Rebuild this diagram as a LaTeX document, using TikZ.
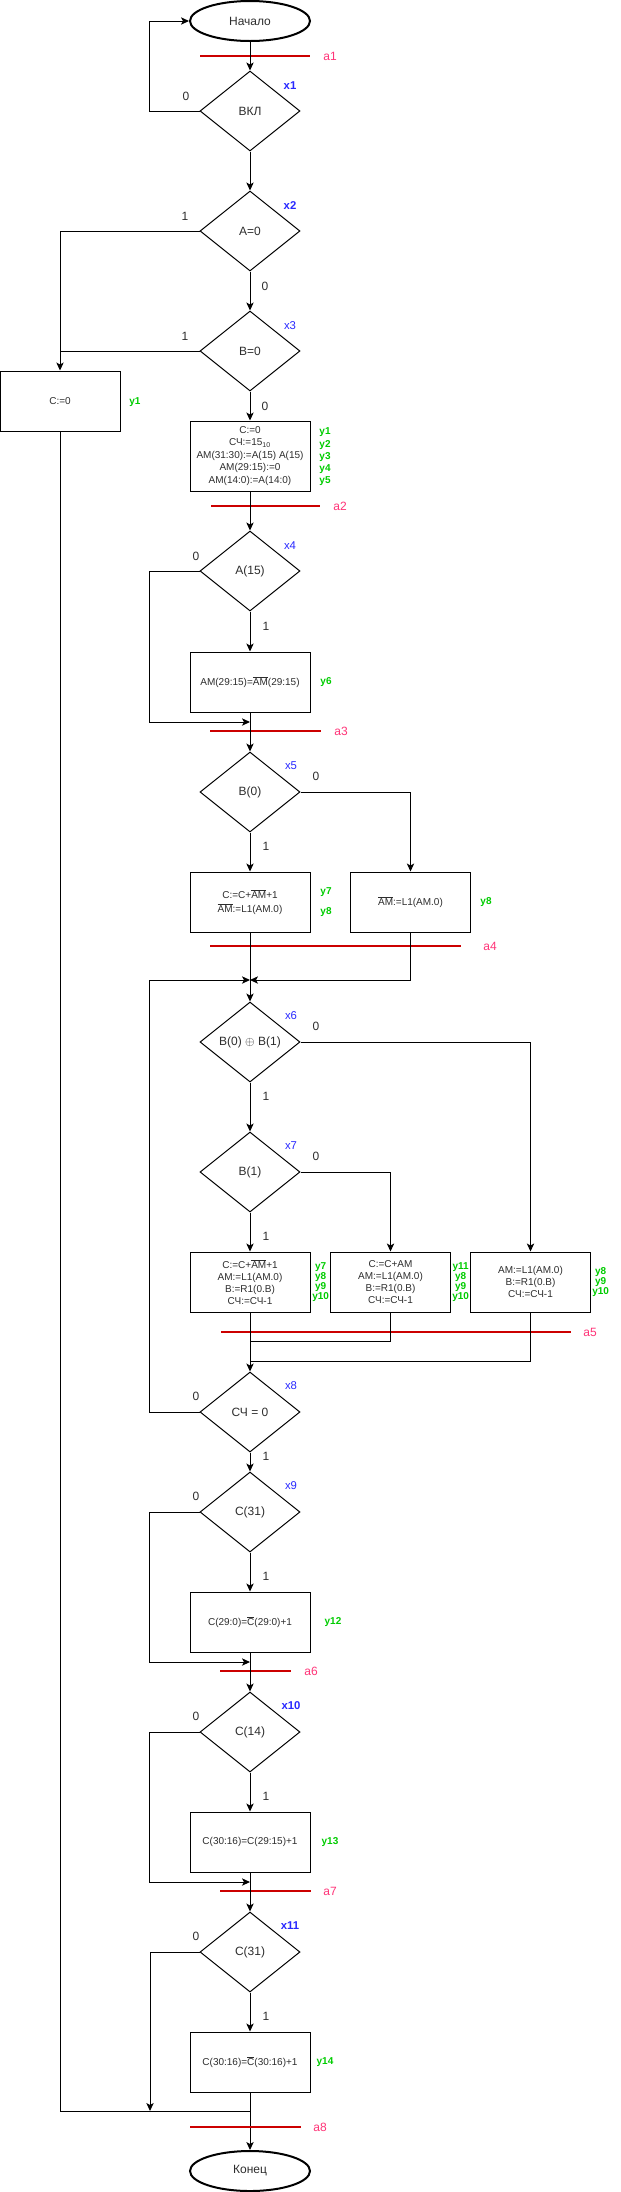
\documentclass[tikz,border=0pt]{standalone}
\usepackage{fontspec}
\setmainfont{Liberation Sans}
\usetikzlibrary{shapes.geometric,arrows.meta}
\definecolor{xblue}{RGB}{40,40,255}
\definecolor{ygreen}{RGB}{0,204,0}
\definecolor{apink}{RGB}{255,51,119}
\definecolor{ared}{RGB}{204,0,0}
\definecolor{txt}{RGB}{45,45,45}
\newcommand{\ovl}[1]{$\overline{\mbox{#1}}$}
\begin{document}
\begin{tikzpicture}[x=0.75pt,y=-0.75pt,
 line width=0.75pt,
 >={Stealth[length=6pt,width=5.5pt,inset=1.5pt]},
 dec/.style={diamond,draw,minimum width=75pt,minimum height=60pt,inner sep=0pt,font=\fontsize{9}{11}\selectfont,text=txt},
 proc/.style={rectangle,draw,minimum width=90pt,minimum height=45pt,inner sep=0pt,align=center,font=\fontsize{7.5}{9}\selectfont,text=txt},
 term/.style={ellipse,draw,line width=1.5pt,minimum width=90pt,minimum height=30pt,inner sep=0pt,font=\fontsize{9}{11}\selectfont,text=txt},
 xlab/.style={text=xblue,font=\fontsize{8.5}{10}\selectfont},
 xlabb/.style={text=xblue,font=\bfseries\fontsize{8.5}{10}\selectfont},
 ylab/.style={text=ygreen,inner sep=0pt,align=center,font=\bfseries\fontsize{7.5}{9.2}\selectfont},
 alab/.style={text=apink,font=\fontsize{9}{11}\selectfont},
 blab/.style={text=txt,font=\fontsize{9}{11}\selectfont},
 stateline/.style={draw=ared,line width=1.5pt}
]
\useasboundingbox (0,0) rectangle (621,2192);

% start
\node[term] (start) at (250,21) {Начало};
\draw[stateline] (200,56) -- (310,56);
\node[alab] (la1) at (330,56) {a1};

\node[dec] (d1) at (250,111) {ВКЛ};
\node[xlabb] (lx1) at (290,86) {x1};
\node[blab] (l10) at (186,96) {0};
\draw[->] (start) -- (d1);
\draw[->] (d1.west) -- ++(-50,0) |- (start.west);

\node[dec] (d2) at (250,231) {A=0};
\node[xlabb] (lx2) at (290,206) {x2};
\node[blab] (l21) at (185,216) {1};
\node[blab] (l20) at (265,286) {0};
\draw[->] (d1) -- (d2);

\node[dec] (d3) at (250,351) {B=0};
\node[xlab] (lx3) at (290,326) {x3};
\node[blab] (l31) at (185,336) {1};
\node[blab] (l30) at (265,406) {0};
\draw[->] (d2) -- (d3);

\node[proc] (c0) at (60,401) {C:=0};
\node[ylab] (ly1a) at (135,402) {y1};
\draw[->] (d2.west) -| (c0.north);
\draw (d3.west) -- (d3.west -| c0.north);

\node[proc,minimum height=52.5pt,font=\fontsize{7.5}{9.4}\selectfont] (b1) at (250,456)
 {C:=0\\СЧ:=15\textsubscript{10}\\AM(31:30):=A(15) A(15)\\AM(29:15):=0\\AM(14:0):=A(14:0)};
\node[ylab] (ly15) at (325,457) {y1\\y2\\y3\\y4\\y5};
\draw[->] (d3) -- (b1);
\draw[stateline] (211,506) -- (320,506);
\node[alab] (la2) at (340,506) {a2};

\node[dec] (d4) at (250,571) {A(15)};
\node[xlab] (lx4) at (290,546) {x4};
\node[blab] (l40) at (196,556) {0};
\node[blab] (l41) at (266,626) {1};
\draw[->] (b1) -- (d4);

\node[proc] (b2) at (250,682) {AM(29:15)=\ovl{AM}(29:15)};
\node[ylab] (ly6) at (326,682) {y6};
\draw[->] (d4) -- (b2);
\coordinate (j3) at (250,722);
\draw[->] (d4.west) -- ++(-50,0) |- (j3);
\draw[stateline] (210,731) -- (321,731);
\node[alab] (la3) at (341,731) {a3};

\node[dec] (d5) at (250,792) {B(0)};
\node[xlab] (lx5) at (291,766) {x5};
\node[blab] (l50) at (316,776) {0};
\node[blab] (l51) at (266,846) {1};
\draw[->] (b2) -- (d5);

\node[proc,font=\fontsize{7.5}{10.7}\selectfont] (b3) at (250,902) {C:=C+\ovl{AM}+1\\\ovl{AM}:=L1(AM.0)};
\node[ylab] (ly7) at (326,892) {y7};
\node[ylab] (ly8a) at (326,912) {y8};
\node[proc] (b4) at (410.5,902) {\ovl{AM}:=L1(AM.0)};
\node[ylab] (ly8b) at (486,902) {y8};
\draw[->] (d5) -- (b3);
\draw[->] (d5.east) -| (b4.north);
\draw[stateline] (210,946) -- (461,946);
\node[alab] (la4) at (490,946) {a4};

\coordinate (j4) at (250,980);
\draw[->] (b4.south) |- (j4);

\node[dec] (d6) at (250,1042) {B(0) $\oplus$ B(1)};
\node[xlab] (lx6) at (291,1016) {x6};
\node[blab] (l60) at (316,1026) {0};
\node[blab] (l61) at (266,1096) {1};
\draw[->] (b3) -- (d6);

\node[dec] (d7) at (250,1172) {B(1)};
\node[xlab] (lx7) at (291,1146) {x7};
\node[blab] (l70) at (316,1156) {0};
\node[blab] (l71) at (266,1236) {1};
\draw[->] (d6) -- (d7);

\node[proc] (b5) at (250,1282) {C:=C+\ovl{AM}+1\\AM:=L1(AM.0)\\B:=R1(0.B)\\СЧ:=СЧ-1};
\node[ylab,font=\bfseries\fontsize{7.5}{7.4}\selectfont] (ly710) at (320.7,1282) {y7\\y8\\y9\\y10};
\node[proc] (b6) at (390.5,1282) {C:=C+AM\\AM:=L1(AM.0)\\B:=R1(0.B)\\СЧ:=СЧ-1};
\node[ylab,font=\bfseries\fontsize{7.5}{7.4}\selectfont] (ly1110) at (460.7,1282) {y11\\y8\\y9\\y10};
\node[proc] (b7) at (530.5,1282) {AM:=L1(AM.0)\\B:=R1(0.B)\\СЧ:=СЧ-1};
\node[ylab,font=\bfseries\fontsize{7.5}{7.2}\selectfont] (ly810) at (600.7,1282) {y8\\y9\\y10};
\draw[->] (d7) -- (b5);
\draw[->] (d7.east) -| (b6.north);
\draw[->] (d6.east) -| (b7.north);
\draw[stateline] (221,1332) -- (571,1332);
\node[alab] (la5) at (590,1332) {a5};

\node[dec] (d8) at (250,1412) {СЧ = 0};
\node[xlab] (lx8) at (291,1386) {x8};
\node[blab] (l80) at (196,1396) {0};
\node[blab] (l81) at (266,1456) {1};
\draw[->] (b5) -- (d8);
\coordinate (j5a) at (250,1341);
\coordinate (j5b) at (250,1361);
\draw (b6.south) |- (j5a);
\draw (b7.south) |- (j5b);
\draw[->] (d8.west) -- ++(-50,0) |- (j4);

\node[dec] (d9) at (250,1512) {C(31)};
\node[xlab] (lx9) at (291,1486) {x9};
\node[blab] (l90) at (196,1496) {0};
\node[blab] (l91) at (266,1576) {1};
\draw[->] (d8) -- (d9);

\node[proc] (b8) at (250,1622) {C(29:0)=\ovl{C}(29:0)+1};
\node[ylab] (ly12) at (333,1622) {y12};
\draw[->] (d9) -- (b8);
\coordinate (j6) at (250,1662);
\draw[->] (d9.west) -- ++(-50,0) |- (j6);
\draw[stateline] (220,1671) -- (291,1671);
\node[alab] (la6) at (311,1671) {a6};

\node[dec] (d10) at (250,1732) {C(14)};
\node[xlabb] (lx10) at (291,1706) {x10};
\node[blab] (l100) at (196,1716) {0};
\node[blab] (l101) at (266,1796) {1};
\draw[->] (b8) -- (d10);

\node[proc] (b9) at (250,1842) {C(30:16)=C(29:15)+1};
\node[ylab] (ly13) at (330,1842) {y13};
\draw[->] (d10) -- (b9);
\coordinate (j7) at (250,1882);
\draw[->] (d10.west) -- ++(-50,0) |- (j7);
\draw[stateline] (220,1891) -- (311,1891);
\node[alab] (la7) at (330,1891) {a7};

\node[dec] (d11) at (250,1952) {C(31)};
\node[xlabb] (lx11) at (290,1926) {x11};
\node[blab] (l110) at (196,1936) {0};
\node[blab] (l111) at (266,2016) {1};
\draw[->] (b9) -- (d11);

\node[proc] (b10) at (250,2062) {C(30:16)=\ovl{C}(30:16)+1};
\node[ylab] (ly14) at (325,2062) {y14};
\draw[->] (d11) -- (b10);

\node[term] (fin) at (250,2171) {Конец};
\draw[->] (b10) -- (fin);
\coordinate (j8) at (250,2111);
\coordinate (j8b) at (150,2111);
\draw (c0.south) |- (j8);
\draw[->] (d11.west) -| (j8b);
\draw[stateline] (190,2127) -- (301,2127);
\node[alab] (la8) at (320,2127) {a8};
\end{tikzpicture}
\end{document}
